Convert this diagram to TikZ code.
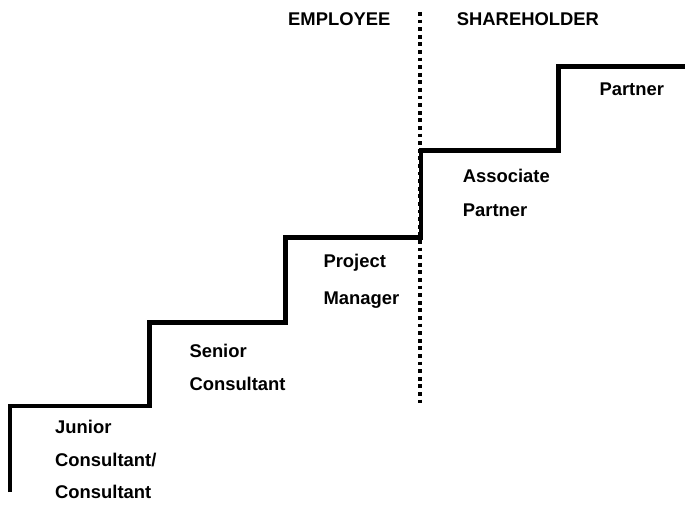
\documentclass[tikz,border=0pt]{standalone}
\usepackage{fontspec}
\setmainfont{Liberation Sans}
\usepackage{tikz}

\tikzset{
  lbl/.style={font=\bfseries\fontsize{18.4}{20}\selectfont, anchor=base west, inner sep=0pt},
  stair/.style={line width=4.5pt, line join=miter},
  divider/.style={line width=4pt, dash pattern=on 3.8pt off 3.8pt}
}

\begin{document}
\begin{tikzpicture}[x=1pt,y=-1pt]
\useasboundingbox (0,0) rectangle (685,505);
% staircase
\draw[stair] (10,492)--(10,406)--(149.5,406)--(149.5,322.5)--(285.5,322.5)
  --(285.5,237.5)--(421,237.5)--(421,150.5)--(558.3,150.5)--(558.3,66.3)--(685,66.3);
% employee / shareholder divider
\draw[divider] (420,12)--(420,407);
\node[lbl] (employee) at (288,25.7) {EMPLOYEE};
\node[lbl] (shareholder) at (456.7,25.7) {SHAREHOLDER};
% grades
\node[lbl] (junior) at (55,433.3) {Junior};
\node[lbl] (juniorb) at (55,466) {Consultant/};
\node[lbl] (juniorc) at (55,498) {Consultant};
\node[lbl] (senior) at (189.3,357.3) {Senior};
\node[lbl] (seniorb) at (189.3,390) {Consultant};
\node[lbl] (pm) at (323.3,267) {Project};
\node[lbl] (pmb) at (323.3,304) {Manager};
\node[lbl] (assoc) at (462.7,182.3) {Associate};
\node[lbl] (assocb) at (462.7,216) {Partner};
\node[lbl] (partner) at (599.3,95.7) {Partner};
\end{tikzpicture}
\end{document}
